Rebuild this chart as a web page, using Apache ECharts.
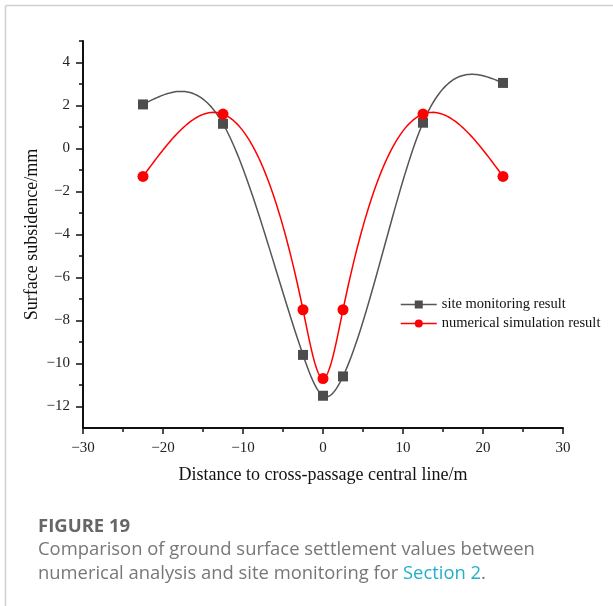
<!DOCTYPE html>
<html>
<head>
<meta charset="utf-8">
<script src="https://cdn.jsdelivr.net/npm/echarts@6/dist/echarts.min.js"></script>
<style>
html,body{margin:0;padding:0;background:#fff;}
#main{width:613px;height:606px;}
</style>
</head>
<body>
<div id="main"></div>
<script>
// ---- data ----
const distances = [-22.5, -12.5, -2.5, 0, 2.5, 12.5, 22.5];
const siteMonitoring = [2.05, 1.15, -9.6, -11.5, -10.6, 1.2, 3.05];
const numericalSimulation = [-1.3, 1.6, -7.5, -10.7, -7.5, 1.6, -1.3];
const seriesNames = ['site monitoring result', 'numerical simulation result'];
const xTickLabels = [-30, -20, -10, 0, 10, 20, 30];
const yTickLabels = [-12, -10, -8, -6, -4, -2, 0, 2, 4];
const yMinorTicks = [-11, -9, -7, -5, -3, -1, 1, 3, 5];

// natural cubic spline second derivatives
function splineM(x, y) {
  const n = x.length, M = new Array(n).fill(0);
  const a = [], b = [], c = [], d = [];
  for (let i = 1; i < n - 1; i++) {
    const h0 = x[i] - x[i - 1], h1 = x[i + 1] - x[i];
    a.push(h0); b.push(2 * (h0 + h1)); c.push(h1);
    d.push(6 * ((y[i + 1] - y[i]) / h1 - (y[i] - y[i - 1]) / h0));
  }
  const m = b.length;
  for (let i = 1; i < m; i++) {
    const w = a[i] / b[i - 1];
    b[i] -= w * c[i - 1]; d[i] -= w * d[i - 1];
  }
  const s = new Array(m);
  s[m - 1] = d[m - 1] / b[m - 1];
  for (let i = m - 2; i >= 0; i--) s[i] = (d[i] - c[i] * s[i + 1]) / b[i];
  for (let i = 0; i < m; i++) M[i + 1] = s[i];
  return M;
}
function splineAt(x, y, M, i, t) {
  const h = x[i + 1] - x[i], A = (x[i + 1] - t) / h, B = (t - x[i]) / h;
  return A * y[i] + B * y[i + 1] + ((A * A * A - A) * M[i] + (B * B * B - B) * M[i + 1]) * h * h / 6;
}
function curveSeries(ys, color) {
  const M = splineM(distances, ys);
  return {
    type: 'custom', coordinateSystem: 'cartesian2d', silent: true, z: 1,
    encode: {x: 0, y: 1},
    data: distances.map((x, i) => [x, ys[i]]),
    renderItem: function (params, api) {
      const i = params.dataIndex;
      if (i >= distances.length - 1) return null;
      const pts = [];
      const N = 40;
      for (let k = 0; k <= N; k++) {
        const t = distances[i] + (distances[i + 1] - distances[i]) * k / N;
        pts.push(api.coord([t, splineAt(distances, ys, M, i, t)]));
      }
      return {type: 'polyline', shape: {points: pts},
        style: {stroke: color, lineWidth: 1.5, fill: null}};
    }
  };
}

const grayC = '#4d4d4d', redC = '#ff0000';
const serif = '"Liberation Serif", "Times New Roman", serif';
const sans = '"Open Sans", "Noto Sans", sans-serif';
const fmtNum = v => (v < 0 ? '\u2212' + Math.abs(v) : String(v));

const chart = echarts.init(document.getElementById('main'));
chart.setOption({
  animation: false,
  backgroundColor: '#fff',
  grid: {left: 83, right: 50, top: 41, bottom: 178, containLabel: false},
  xAxis: {
    type: 'value', min: -30, max: 30, interval: 10,
    name: 'Distance to cross-passage central line/m',
    nameLocation: 'middle', nameGap: 38,
    nameTextStyle: {fontFamily: serif, fontSize: 18, color: '#111'},
    axisLine: {show: true, onZero: false, lineStyle: {color: '#111', width: 2}},
    axisTick: {show: true, inside: false, length: 6, lineStyle: {color: '#111', width: 1.5}},
    minorTick: {show: true, splitNumber: 2, length: 4, lineStyle: {color: '#111', width: 1.5}},
    splitLine: {show: false},
    axisLabel: {fontFamily: serif, fontSize: 15, color: '#222', margin: 13, formatter: fmtNum}
  },
  yAxis: [{
    type: 'value', min: -13, max: 5,
    name: 'Surface subsidence/mm',
    nameLocation: 'middle', nameGap: 42, nameRotate: 90, nameMoveOverlap: false,
    nameTextStyle: {fontFamily: serif, fontSize: 18, color: '#111'},
    axisLine: {show: true, onZero: false, lineStyle: {color: '#111', width: 2}},
    axisTick: {show: true, inside: false, length: 7, customValues: yTickLabels, lineStyle: {color: '#111', width: 1.5}},
    splitLine: {show: false},
    axisLabel: {fontFamily: serif, fontSize: 15, color: '#222', margin: 13, customValues: yTickLabels, formatter: fmtNum}
  }, {
    type: 'value', min: -13, max: 5, position: 'left', offset: 0,
    axisLine: {show: false, onZero: false},
    axisTick: {show: true, inside: false, length: 4, customValues: yMinorTicks, lineStyle: {color: '#111', width: 1.5}},
    axisLabel: {show: false},
    splitLine: {show: false}
  }],
  legend: {
    orient: 'vertical', left: 395, top: 292, itemGap: 4,
    itemWidth: 36, itemHeight: 10,
    textStyle: {fontFamily: serif, fontSize: 14.5, color: '#111'},
    data: [
      {name: seriesNames[0], itemStyle: {color: grayC}, lineStyle: {color: '#555', width: 1.5, opacity: 1}},
      {name: seriesNames[1], itemStyle: {color: redC}, lineStyle: {color: redC, width: 1.5, opacity: 1}}
    ]
  },
  series: [
    curveSeries(siteMonitoring, '#555555'),
    curveSeries(numericalSimulation, redC),
    {
      name: seriesNames[0], type: 'line', z: 3,
      data: distances.map((x, i) => [x, siteMonitoring[i]]),
      symbol: 'rect', symbolSize: 10, showAllSymbol: true,
      itemStyle: {color: grayC},
      lineStyle: {opacity: 0, color: '#555'}
    },
    {
      name: seriesNames[1], type: 'line', z: 3,
      data: distances.map((x, i) => [x, numericalSimulation[i]]),
      symbol: 'circle', symbolSize: 11, showAllSymbol: true,
      itemStyle: {color: redC},
      lineStyle: {opacity: 0, color: redC}
    }
  ],
  graphic: [
    {type: 'line', shape: {x1: 5.5, y1: 5.5, x2: 613, y2: 5.5}, style: {stroke: '#d0d0d0', lineWidth: 1.5}},
    {type: 'line', shape: {x1: 5.5, y1: 5.5, x2: 5.5, y2: 606}, style: {stroke: '#d0d0d0', lineWidth: 1.5}},
    {type: 'text', left: 38, top: 517, style: {text: 'FIGURE 19', fill: '#666', font: 'bold 18.5px ' + sans}},
    {type: 'text', left: 38, top: 538, style: {
      text: 'Comparison of ground surface settlement values between\nnumerical analysis and site monitoring for {a|Section 2}.',
      fill: '#777', font: '18.4px ' + sans, lineHeight: 24,
      rich: {a: {fill: '#22b0c8', font: '18.4px ' + sans}}
    }}
  ]
});
</script>
</body>
</html>
